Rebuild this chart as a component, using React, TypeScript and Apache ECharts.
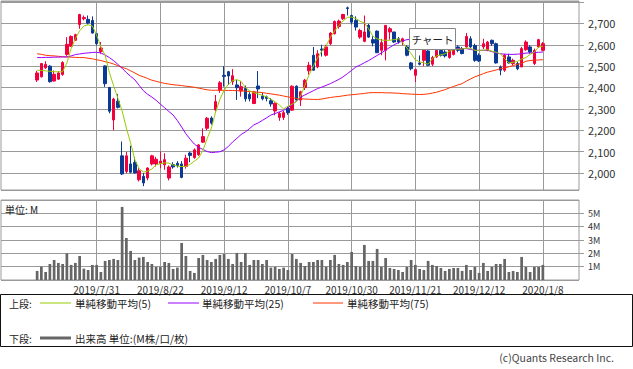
import React, { useEffect, useRef } from 'react';
import * as echarts from 'echarts';

const dates = [
  '2019/7/10','2019/7/11','2019/7/12','2019/7/16','2019/7/17','2019/7/18','2019/7/19','2019/7/22','2019/7/23','2019/7/24','2019/7/25','2019/7/26','2019/7/29','2019/7/30','2019/7/31',
  '2019/8/1','2019/8/2','2019/8/5','2019/8/6','2019/8/7','2019/8/8','2019/8/9','2019/8/13','2019/8/14','2019/8/15','2019/8/16','2019/8/19','2019/8/20','2019/8/21','2019/8/22',
  '2019/8/23','2019/8/26','2019/8/27','2019/8/28','2019/8/29','2019/8/30',
  '2019/9/2','2019/9/3','2019/9/4','2019/9/5','2019/9/6','2019/9/9','2019/9/10','2019/9/11','2019/9/12',
  '2019/9/13','2019/9/17','2019/9/18','2019/9/19','2019/9/20','2019/9/24','2019/9/25','2019/9/26','2019/9/27','2019/9/30',
  '2019/10/1','2019/10/2','2019/10/3','2019/10/4','2019/10/7',
  '2019/10/8','2019/10/9','2019/10/10','2019/10/11','2019/10/15','2019/10/16','2019/10/17','2019/10/18','2019/10/21','2019/10/23','2019/10/24','2019/10/25','2019/10/28','2019/10/29','2019/10/30',
  '2019/10/31',
  '2019/11/1','2019/11/5','2019/11/6','2019/11/7','2019/11/8','2019/11/11','2019/11/12','2019/11/13','2019/11/14','2019/11/15','2019/11/18','2019/11/19','2019/11/20','2019/11/21',
  '2019/11/22','2019/11/25','2019/11/26','2019/11/27','2019/11/28','2019/11/29',
  '2019/12/2','2019/12/3','2019/12/4','2019/12/5','2019/12/6','2019/12/9','2019/12/10','2019/12/11','2019/12/12',
  '2019/12/13','2019/12/16','2019/12/17','2019/12/18','2019/12/19','2019/12/20','2019/12/23','2019/12/24','2019/12/25','2019/12/26','2019/12/27','2019/12/30',
  '2020/1/6','2020/1/7','2020/1/8',
];

const dateTicks = ['2019/7/31','2019/8/22','2019/9/12','2019/10/7','2019/10/30','2019/11/21','2019/12/12','2020/1/8'];

const opens = [
  2435,2450,2492,2500,2430,2439,2461,2555,2593,2621,2695,2722,2719,2714,2652,
  2569,2501,2400,2248,2336,2080,2007,2042,2049,1968,1984,1976,2042,2042,2045,
  2038,1976,2039,2045,2042,2030,2093,2072,2085,2144,2209,2257,2295,2388,2457,
  2474,2427,2412,2384,2396,2368,2325,2407,2360,2356,2338,2290,2260,2260,2302,
  2294,2406,2341,2400,2478,2551,2496,2580,2551,2605,2652,2686,2722,2773,2737,
  2714,2636,2616,2691,2624,2664,2574,2574,2660,2660,2628,2613,2590,2515,2457,
  2515,2527,2571,2509,2543,2574,2566,2540,2555,2590,2582,2590,2628,2597,2551,
  2590,2574,2621,2605,2496,2481,2543,2512,2512,2496,2577,2590,2512,2590,2574,
];
const closes = [
  2468,2512,2508,2427,2462,2468,2517,2602,2639,2647,2742,2728,2702,2655,2605,
  2585,2418,2289,2346,2307,1995,2080,2003,2000,2010,1953,2023,2080,2064,2055,
  2062,2028,2028,2035,1979,2069,2082,2108,2131,2170,2256,2233,2334,2422,2452,
  2454,2455,2399,2404,2347,2347,2378,2393,2347,2349,2323,2326,2279,2282,2282,
  2406,2341,2380,2434,2504,2481,2558,2575,2590,2655,2709,2711,2742,2770,2706,
  2683,2667,2660,2636,2608,2563,2610,2691,2675,2613,2613,2628,2551,2488,2484,
  2509,2574,2504,2540,2574,2551,2548,2577,2582,2574,2559,2639,2590,2527,2524,
  2605,2613,2605,2515,2481,2551,2515,2527,2488,2582,2613,2566,2574,2624,2605,
];
const lows = [
  2426,2447,2487,2423,2428,2436,2455,2548,2590,2618,2675,2714,2695,2652,2597,
  2558,2403,2279,2200,2302,1990,1998,1998,1996,1960,1938,1965,2035,2030,2022,
  2015,1965,2020,2025,1975,2020,2050,2066,2080,2140,2200,2226,2288,2375,2404,
  2412,2412,2342,2357,2334,2335,2322,2350,2340,2335,2310,2270,2244,2248,2272,
  2290,2336,2313,2388,2460,2478,2490,2545,2545,2598,2648,2676,2716,2737,2695,
  2667,2628,2612,2632,2593,2561,2551,2527,2624,2609,2605,2598,2546,2480,2426,
  2504,2500,2500,2500,2538,2545,2540,2535,2550,2565,2555,2585,2585,2520,2520,
  2580,2570,2595,2512,2457,2473,2512,2504,2481,2496,2572,2558,2505,2585,2570,
];
const highs = [
  2478,2515,2523,2505,2480,2476,2523,2636,2644,2652,2745,2737,2737,2733,2655,
  2613,2504,2403,2352,2369,2147,2098,2127,2075,2022,1999,2026,2085,2075,2100,
  2092,2035,2050,2055,2055,2085,2100,2115,2135,2209,2262,2265,2365,2430,2500,
  2478,2486,2435,2430,2409,2378,2384,2477,2375,2362,2350,2330,2286,2290,2312,
  2410,2410,2385,2440,2520,2590,2575,2600,2600,2660,2714,2718,2745,2779,2741,
  2733,2675,2737,2698,2640,2667,2628,2691,2683,2660,2636,2633,2598,2520,2488,
  2550,2590,2580,2548,2585,2580,2575,2585,2590,2598,2590,2655,2640,2605,2560,
  2628,2618,2624,2610,2503,2558,2558,2535,2520,2590,2621,2598,2582,2628,2613,
];

const ma5 = [
  2481,2480,2478,2476,2474,2473,2474,2515,2582,2629,2665,2688,2694,2688,2645,
  2590,2551,2470,2408,2350,2290,2210,2140,2061,2020,2004,2008,2018,2038,2043,
  2047,2046,2037,2032,2030,2030,2040,2055,2070,2105,2160,2210,2285,2345,2387,
  2415,2432,2437,2428,2400,2385,2375,2370,2363,2356,2345,2333,2318,2300,2312,
  2322,2335,2360,2410,2460,2500,2540,2570,2595,2635,2665,2690,2712,2728,2730,
  2723,2710,2702,2675,2640,2628,2622,2621,2621,2624,2628,2610,2585,2558,2530,
  2520,2515,2509,2535,2548,2553,2558,2570,2577,2580,2580,2585,2583,2574,2574,
  2575,2577,2570,2565,2558,2535,2515,2518,2522,2533,2540,2555,2565,2590,2593,
];
const ma25 = [
  2540,2540,2541,2541,2542,2542,2543,2543,2548,2554,2557,2560,2562,2564,2565,
  2562,2552,2540,2526,2508,2490,2470,2452,2436,2410,2385,2368,2355,2340,2322,
  2305,2288,2271,2245,2215,2183,2158,2135,2120,2110,2100,2095,2097,2099,2108,
  2124,2145,2162,2180,2192,2208,2225,2234,2246,2258,2271,2278,2286,2293,2305,
  2320,2335,2355,2365,2375,2385,2395,2402,2410,2418,2428,2438,2450,2465,2480,
  2496,2505,2516,2526,2538,2550,2562,2575,2588,2600,2610,2618,2624,2625,2624,
  2622,2618,2612,2606,2600,2595,2590,2585,2582,2582,2582,2582,2578,2574,2574,
  2574,2574,2568,2562,2558,2556,2555,2555,2556,2558,2561,2562,2563,2565,2566,
];
const ma75 = [
  2558,2555,2551,2549,2548,2546,2544,2543,2542,2541,2540,2540,2537,2534,2530,
  2526,2521,2516,2510,2502,2494,2488,2478,2468,2457,2450,2442,2434,2429,2424,
  2419,2416,2413,2411,2409,2406,2404,2401,2397,2393,2389,2387,2387,2387,2387,
  2386,2386,2385,2384,2383,2381,2380,2378,2376,2373,2370,2367,2364,2360,2356,
  2352,2349,2347,2346,2345,2344,2344,2346,2350,2353,2356,2358,2361,2364,2366,
  2368,2370,2372,2375,2376,2376,2376,2375,2375,2374,2373,2371,2370,2369,2368,
  2367,2368,2370,2374,2378,2384,2390,2398,2405,2412,2418,2430,2440,2450,2457,
  2465,2472,2477,2482,2488,2492,2497,2503,2508,2513,2523,2526,2528,2529,2530,
];

// volume in millions
const volumes = [
  0.68,1.0,0.6,1.2,1.5,1.28,1.2,2.0,1.13,1.28,1.8,0.85,0.75,1.13,1.13,
  0.6,1.43,1.5,1.58,1.5,5.48,3.15,2.18,1.5,1.68,1.73,1.35,1.2,0.98,0.98,
  1.35,1.28,0.83,0.93,2.78,1.8,0.68,0.53,1.65,1.88,1.5,1.35,1.58,1.88,1.95,
  1.58,1.2,2.03,1.35,2.03,1.13,1.5,1.5,1.2,1.5,0.93,0.98,0.83,0.93,0.75,
  1.95,1.58,1.28,1.05,1.35,1.35,1.5,1.5,1.0,1.5,1.88,1.2,1.13,1.35,2.1,
  1.05,0.98,2.63,1.43,1.43,2.33,0.98,1.65,0.9,0.83,0.75,0.6,0.98,1.5,1.13,
  0.83,0.75,1.43,1.13,1.05,0.9,0.68,0.83,0.9,0.9,0.68,1.13,0.75,0.98,0.53,
  1.28,0.68,0.98,1.2,1.2,1.58,0.6,0.68,0.6,1.73,0.98,0.6,0.98,0.98,1.13,
];

const PRE = 8;
const POST = 8;
const cats = [
  ...Array.from({ length: PRE }, (_, k) => `pre${k}`),
  ...dates,
  ...Array.from({ length: POST }, (_, k) => `post${k}`),
];
const pad = (arr: any[]) => [...Array(PRE).fill('-'), ...arr, ...Array(POST).fill('-')];

const FONT = "'Noto Sans CJK JP', 'Noto Sans', sans-serif";
const UP = '#f2003c';
const DOWN = '#0b3a94';
const GRID = '#9a9a9a';

export default function App() {
  const ref = useRef<HTMLDivElement>(null);
  useEffect(() => {
    if (!ref.current) return;
    const chart = echarts.init(ref.current, undefined, { renderer: 'svg' });
    const candleData = pad(dates.map((_, i) => [opens[i], closes[i], lows[i], highs[i]]));
    const vMark = {
      silent: true,
      symbol: ['none', 'none'],
      z: 1,
      label: { show: false },
      emphasis: { disabled: true },
      lineStyle: { color: GRID, type: 'solid', width: 1 },
      data: dateTicks.map((d) => ({ xAxis: d })),
    };
    const legendY1 = 303;
    const legendY2 = 338;
    const txt = (x: number, y: number, text: string, extra: any = {}) => ({
      type: 'text',
      x,
      y,
      z: 100,
      style: {
        text,
        fill: '#222',
        fontSize: 10.5,
        fontFamily: FONT,
        textVerticalAlign: 'middle',
        ...extra,
      },
    });
    const ln = (x1: number, x2: number, y: number, color: string, w = 1) => ({
      type: 'line',
      z: 100,
      shape: { x1, y1: y, x2, y2: y },
      style: { stroke: color, lineWidth: w },
    });
    const option: any = {
      animation: false,
      backgroundColor: '#ffffff',
      grid: [
        { left: 1, right: 54, top: 1, height: 189, show: true, borderColor: GRID, borderWidth: 1, backgroundColor: 'transparent', outerBoundsMode: 'none' },
        { left: 1, right: 54, top: 200, height: 80, show: true, borderColor: GRID, borderWidth: 1, backgroundColor: 'transparent', outerBoundsMode: 'none' },
      ],
      xAxis: [
        {
          type: 'category', gridIndex: 0, data: cats, boundaryGap: true,
          axisLine: { show: false }, axisTick: { show: false }, axisLabel: { show: false }, splitLine: { show: false },
        },
        {
          type: 'category', gridIndex: 1, data: cats, boundaryGap: true,
          axisLine: { show: false }, axisTick: { show: false }, splitLine: { show: false },
          axisLabel: {
            show: true,
            interval: (idx: number) => dateTicks.includes(cats[idx]),
            margin: 4,
            fontSize: 10,
            fontFamily: FONT,
            color: '#333',
          },
        },
      ],
      yAxis: [
        {
          type: 'value', gridIndex: 0, position: 'right',
          min: 1920, max: 2805, splitNumber: 9, minInterval: 100, maxInterval: 100,
          axisLine: { show: false },
          axisTick: { show: true, length: 5, lineStyle: { color: GRID } },
          splitLine: { show: true, lineStyle: { color: GRID, width: 1 } },
          axisLabel: {
            margin: 9, fontSize: 11, fontFamily: FONT, color: '#333',
            showMinLabel: false, showMaxLabel: false,
            formatter: (v: number) => (v >= 2000 && v <= 2700 && v % 100 === 0 ? v.toLocaleString('en-US') : ''),
          },
        },
        {
          type: 'value', gridIndex: 1, position: 'right',
          min: 0, max: 6, interval: 1,
          axisLine: { show: false },
          axisTick: { show: true, length: 5, lineStyle: { color: GRID } },
          splitLine: { show: true, lineStyle: { color: GRID, width: 1 } },
          axisLabel: {
            margin: 9, fontSize: 9, lineHeight: 10, fontFamily: FONT, color: '#333',
            showMinLabel: false, showMaxLabel: false,
            formatter: (v: number) => (v >= 1 && v <= 5 ? `${v}M` : ''),
          },
        },
      ],
      series: [
        {
          name: 'price', type: 'candlestick', xAxisIndex: 0, yAxisIndex: 0,
          data: candleData, barWidth: 2.8,
          itemStyle: { color: UP, color0: DOWN, borderColor: UP, borderColor0: DOWN, borderWidth: 1 },
          markLine: vMark,
        },
        {
          name: '単純移動平均(75)', type: 'line', xAxisIndex: 0, yAxisIndex: 0, data: pad(ma75),
          showSymbol: false, symbol: 'none', lineStyle: { color: '#ff3300', width: 1 }, z: 3,
        },
        {
          name: '単純移動平均(25)', type: 'line', xAxisIndex: 0, yAxisIndex: 0, data: pad(ma25),
          showSymbol: false, symbol: 'none', lineStyle: { color: '#9900ff', width: 1 }, z: 3,
        },
        {
          name: '単純移動平均(5)', type: 'line', xAxisIndex: 0, yAxisIndex: 0, data: pad(ma5),
          showSymbol: false, symbol: 'none', lineStyle: { color: '#99cc00', width: 1 }, z: 3,
        },
        {
          name: '出来高', type: 'bar', xAxisIndex: 1, yAxisIndex: 1, data: pad(volumes),
          barWidth: 2.7, itemStyle: { color: '#666666' },
          markLine: vMark,
        },
      ],
      graphic: [
        txt(5, 209, '単位: M', { fontSize: 10 }),
        {
          type: 'rect', z: 100,
          shape: { x: 409.5, y: 28.5, width: 46, height: 21 },
          style: { fill: '#ffffff', stroke: '#888888', lineWidth: 1 },
        },
        txt(432.5, 39, 'チャート', { textAlign: 'center', fontSize: 10.5 }),
        {
          type: 'rect', z: 100,
          shape: { x: 0.5, y: 294.5, width: 632, height: 52 },
          style: { fill: 'none', stroke: '#111111', lineWidth: 1 },
        },
        txt(9, legendY1, '上段:', { fontSize: 10 }),
        ln(40, 71, legendY1, '#99cc00'),
        txt(75, legendY1, '単純移動平均(5)'),
        ln(168, 199, legendY1, '#9900ff'),
        txt(202, legendY1, '単純移動平均(25)'),
        ln(313, 343, legendY1, '#ff3300'),
        txt(347, legendY1, '単純移動平均(75)'),
        txt(9, legendY2, '下段:', { fontSize: 10 }),
        ln(40, 71, legendY2, '#666666', 3),
        txt(75, legendY2, '出来高 単位:(M株/口/枚)'),
        txt(614, 357, '(c)Quants Research Inc.', { textAlign: 'right', fill: '#444' }),
      ],
    };
    chart.setOption(option);
    return () => chart.dispose();
  }, []);
  return (
    <div
      ref={ref}
      style={{ position: 'fixed', left: 0, top: 0, width: 633, height: 369, background: '#fff' }}
    />
  );
}
